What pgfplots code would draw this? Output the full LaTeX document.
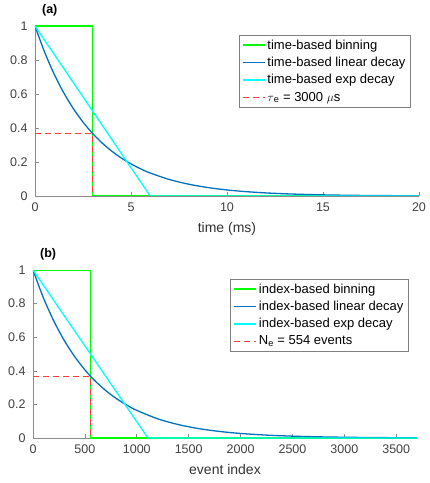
\documentclass[border=0pt]{standalone}
\usepackage{pgfplots}
\pgfplotsset{compat=1.18}
\usepackage{fontspec}
\setmainfont{Liberation Sans}

\definecolor{mgreen}{RGB}{0,255,0}
\definecolor{mblue}{RGB}{0,114,189}
\definecolor{mcyan}{RGB}{0,255,255}
\definecolor{mred}{RGB}{255,60,60}

\pgfplotsset{
  legend image code/.code={\draw[#1] (0pt,0pt) -- (22pt,0pt);},
  decay/.style={
    scale only axis,
    width=384pt,
    axis x line=bottom, axis y line=left,
    axis line style={-, black!45, line width=0.8pt},
    tick style={black!45, line width=0.6pt},
    tick align=inside,
    major tick length=4pt,
    ymin=0, ymax=1,
    ytick={0,0.2,...,1},
    scaled x ticks=false,
    /pgf/number format/assume math mode=true,
    /pgf/number format/1000 sep={},
    tick label style={font=\fontsize{12.5}{15}\selectfont, text=black!75},
    xticklabel style={yshift=-3pt},
    yticklabel style={xshift=-4pt},
    label style={font=\fontsize{14}{16}\selectfont, text=black!80},
    xlabel style={yshift=-4pt},
    title style={at={(rel axis cs:0.018,1)}, anchor=south west,
      font=\bfseries\fontsize{12.5}{14}\selectfont, inner sep=0pt, yshift=4pt},
    legend style={at={(rel axis cs:0.977,0.947)}, anchor=north east,
      draw=black!50, fill=white, font=\fontsize{13}{15}\selectfont,
      row sep=2.5pt, inner sep=2.5pt},
    legend cell align=left,
  },
  bin/.style={color=mgreen, line width=1.8pt},
  expo/.style={color=mblue, line width=1.3pt, smooth},
  lin/.style={color=mcyan, line width=1.3pt},
  tau/.style={color=mred, line width=1pt, dash pattern=on 6pt off 4pt},
}

\begin{document}
\begin{tikzpicture}
\begin{axis}[decay, at={(2pt,242pt)}, height=170pt,
    xmin=0, xmax=20, xtick={0,5,10,15,20},
    xlabel={time (ms)}, title={(a)}]
\addplot[bin] coordinates {(0,1)(3,1)(3,0)(20,0)};
\addlegendentry{time-based binning}
\addplot[expo] coordinates {
  (0,1.0)(0.5,0.8465)(1,0.7165)(1.5,0.6065)(2,0.5134)(2.5,0.4346)(3,0.3679)
  (3.5,0.3114)(4,0.2636)(4.5,0.2231)(5,0.1889)(5.5,0.1599)(6,0.1353)(7,0.0970)
  (8,0.0695)(9,0.0498)(10,0.0357)(11,0.0256)(12,0.0183)(13,0.0131)(14,0.0094)
  (15,0.0067)(16,0.0048)(17,0.0034)(18,0.0025)(19,0.0018)(20,0.0013)};
\addlegendentry{time-based linear decay}
\addplot[lin] coordinates {(0,1)(6,0)(20,0)};
\addlegendentry{time-based exp decay}
\addplot[tau] coordinates {(0,0.3679)(3,0.3679)(3,0)};
\addlegendentry{$\tau$\textsubscript{e} = 3000 $\mu$s}
\end{axis}

\begin{axis}[decay, at={(0pt,0pt)}, height=168pt,
    xmin=0, xmax=3700, xtick={0,500,...,3500},
    xlabel={event index}, title={(b)}]
\addplot[bin] coordinates {(0,1)(554,1)(554,0)(3700,0)};
\addlegendentry{index-based binning}
\addplot[expo] coordinates {
  (0,1.0)(100,0.8348)(200,0.6970)(300,0.5819)(400,0.4858)(500,0.4056)(554,0.3679)
  (600,0.3386)(700,0.2827)(800,0.2360)(900,0.1970)(1000,0.1645)(1200,0.1146)
  (1400,0.0799)(1600,0.0557)(1800,0.0388)(2000,0.0270)(2250,0.0172)(2500,0.0110)
  (2750,0.0070)(3000,0.0045)(3250,0.0028)(3500,0.0018)(3700,0.0013)};
\addlegendentry{index-based linear decay}
\addplot[lin] coordinates {(0,1)(1108,0)(3700,0)};
\addlegendentry{index-based exp decay}
\addplot[tau] coordinates {(0,0.3679)(554,0.3679)(554,0)};
\addlegendentry{N\textsubscript{e} = 554 events}
\end{axis}
\path (-33pt,-45pt) rectangle (394pt,438pt);
\end{tikzpicture}
\end{document}
